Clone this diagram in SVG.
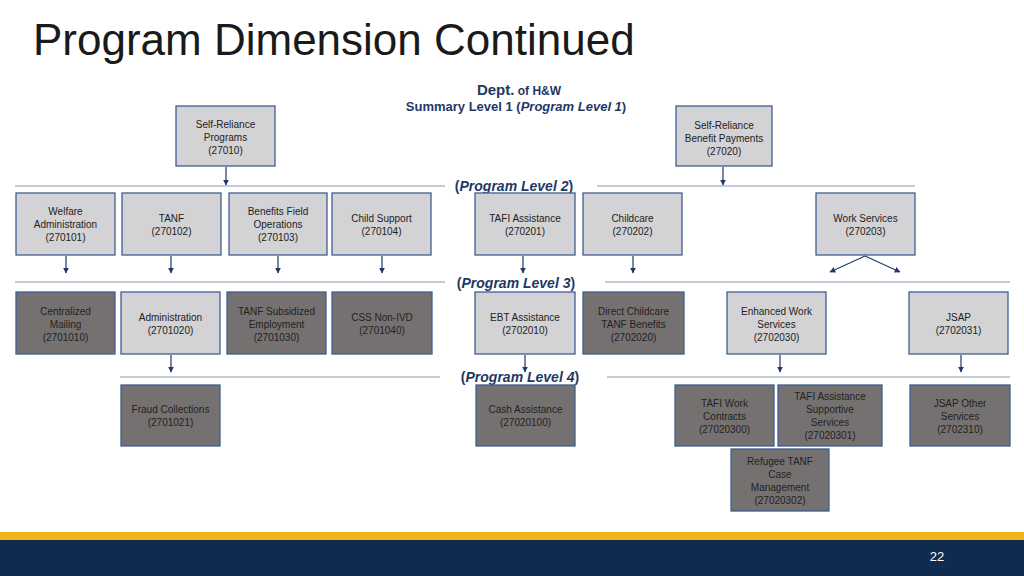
<svg xmlns="http://www.w3.org/2000/svg" width="1024" height="576" viewBox="0 0 1024 576">
<defs>
<style>
text{font-family:"Liberation Sans",Arial,sans-serif}
.b rect{stroke:#3f5f92;stroke-width:1.3}
.l rect{fill:#d3d2d5}
.d rect{fill:#767171}
.b text{font-size:10px;fill:#222;text-anchor:middle}
.hl{stroke:#8a98b0;stroke-width:1}
.lv{font-size:14px;font-weight:bold;font-style:italic;fill:#1f3864;text-anchor:middle}
.lv tspan.p{font-style:normal}
.ar{stroke:#1f3864;stroke-width:1.2;fill:none;marker-end:url(#m)}
</style>
<marker id="m" viewBox="0 0 10 10" refX="9" refY="5" markerWidth="5" markerHeight="5" orient="auto"><path d="M0,0L10,5L0,10z" fill="#1f3864"/></marker>
</defs>
<rect width="1024" height="576" fill="#fff"/>
<text x="33" y="55" font-size="44" fill="#1a1a1a">Program Dimension Continued</text>
<text x="519" y="95" text-anchor="middle" font-weight="bold" fill="#1f3864"><tspan font-size="15">Dept.</tspan><tspan font-size="12"> of H&amp;W</tspan></text>
<text x="516" y="111" text-anchor="middle" font-weight="bold" font-size="13" fill="#1f3864">Summary Level 1 (<tspan font-style="italic">Program Level 1</tspan>)</text>

<g id="connectors">
<line class="hl" x1="15" y1="186" x2="445" y2="186"/><line class="hl" x1="597" y1="186" x2="915" y2="186"/>
<line class="hl" x1="15" y1="282" x2="445" y2="282"/><line class="hl" x1="605" y1="282" x2="1010" y2="282"/>
<line class="hl" x1="120" y1="377" x2="440" y2="377"/><line class="hl" x1="607" y1="377" x2="1010" y2="377"/>
<path class="ar" d="M226,167V185"/><path class="ar" d="M723,167V185"/>
<path class="ar" d="M66,256V273"/><path class="ar" d="M171,256V273"/><path class="ar" d="M278,256V273"/><path class="ar" d="M382,256V273"/><path class="ar" d="M523,256V273"/><path class="ar" d="M633,256V273"/>
<path class="ar" d="M865,256L830,272"/><path class="ar" d="M865,256L900,272"/>
<path class="ar" d="M171,355V372"/><path class="ar" d="M525,355V372"/><path class="ar" d="M780,355V372"/><path class="ar" d="M961,355V372"/>
</g>
<text class="lv" x="514" y="191"><tspan class="p">(</tspan>Program Level 2<tspan class="p">)</tspan></text>
<text class="lv" x="516" y="288"><tspan class="p">(</tspan>Program Level 3<tspan class="p">)</tspan></text>
<text class="lv" x="520" y="382"><tspan class="p">(</tspan>Program Level 4<tspan class="p">)</tspan></text>

<g id="n27010" class="b l"><rect x="176" y="106" width="99" height="60"/><text x="225.5" y="128">Self-Reliance</text><text x="225.5" y="141">Programs</text><text x="225.5" y="154">(27010)</text></g>
<g id="n27020" class="b l"><rect x="676" y="106" width="96" height="60"/><text x="724" y="129">Self-Reliance</text><text x="724" y="142">Benefit Payments</text><text x="724" y="155">(27020)</text></g>

<g id="n270101" class="b l"><rect x="16" y="193" width="99" height="62"/><text x="65.5" y="215">Welfare</text><text x="65.5" y="228">Administration</text><text x="65.5" y="241">(270101)</text></g>
<g id="n270102" class="b l"><rect x="122" y="193" width="99" height="62"/><text x="171.5" y="222">TANF</text><text x="171.5" y="235">(270102)</text></g>
<g id="n270103" class="b l"><rect x="229" y="193" width="98" height="62"/><text x="278" y="215">Benefits Field</text><text x="278" y="228">Operations</text><text x="278" y="241">(270103)</text></g>
<g id="n270104" class="b l"><rect x="332" y="193" width="99" height="62"/><text x="381.5" y="222">Child Support</text><text x="381.5" y="235">(270104)</text></g>
<g id="n270201" class="b l"><rect x="475" y="193" width="100" height="62"/><text x="525" y="222">TAFI Assistance</text><text x="525" y="235">(270201)</text></g>
<g id="n270202" class="b l"><rect x="583" y="193" width="99" height="62"/><text x="632.5" y="222">Childcare</text><text x="632.5" y="235">(270202)</text></g>
<g id="n270203" class="b l"><rect x="816" y="193" width="99" height="62"/><text x="865.5" y="222">Work Services</text><text x="865.5" y="235">(270203)</text></g>

<g id="n2701010" class="b d"><rect x="16" y="292" width="99" height="62"/><text x="65.5" y="315">Centralized</text><text x="65.5" y="328">Mailing</text><text x="65.5" y="341">(2701010)</text></g>
<g id="n2701020" class="b l"><rect x="121" y="292" width="99" height="62"/><text x="170.5" y="321">Administration</text><text x="170.5" y="334">(2701020)</text></g>
<g id="n2701030" class="b d"><rect x="227" y="292" width="99" height="62"/><text x="276.5" y="315">TANF Subsidized</text><text x="276.5" y="328">Employment</text><text x="276.5" y="341">(2701030)</text></g>
<g id="n2701040" class="b d"><rect x="332" y="292" width="100" height="62"/><text x="382" y="321">CSS Non-IVD</text><text x="382" y="334">(2701040)</text></g>
<g id="n2702010" class="b l"><rect x="475" y="292" width="100" height="62"/><text x="525" y="321">EBT Assistance</text><text x="525" y="334">(2702010)</text></g>
<g id="n2702020" class="b d"><rect x="583" y="292" width="101" height="62"/><text x="633.5" y="315">Direct Childcare</text><text x="633.5" y="328">TANF Benefits</text><text x="633.5" y="341">(2702020)</text></g>
<g id="n2702030" class="b l"><rect x="727" y="292" width="99" height="62"/><text x="776.5" y="315">Enhanced Work</text><text x="776.5" y="328">Services</text><text x="776.5" y="341">(2702030)</text></g>
<g id="n2702031" class="b l"><rect x="909" y="292" width="99" height="62"/><text x="958.5" y="321">JSAP</text><text x="958.5" y="334">(2702031)</text></g>

<g id="n2701021" class="b d"><rect x="121" y="385" width="99" height="61"/><text x="170.5" y="413">Fraud Collections</text><text x="170.5" y="426">(2701021)</text></g>
<g id="n27020100" class="b d"><rect x="476" y="385" width="99" height="61"/><text x="525.5" y="413">Cash Assistance</text><text x="525.5" y="426">(27020100)</text></g>
<g id="n27020300" class="b d"><rect x="675" y="385" width="99" height="61"/><text x="724.5" y="407">TAFI Work</text><text x="724.5" y="420">Contracts</text><text x="724.5" y="433">(27020300)</text></g>
<g id="n27020301" class="b d"><rect x="778" y="385" width="104" height="61"/><text x="830" y="400">TAFI Assistance</text><text x="830" y="413">Supportive</text><text x="830" y="426">Services</text><text x="830" y="439">(27020301)</text></g>
<g id="n2702310" class="b d"><rect x="910" y="385" width="100" height="61"/><text x="960" y="407">JSAP Other</text><text x="960" y="420">Services</text><text x="960" y="433">(2702310)</text></g>
<g id="n27020302" class="b d"><rect x="731" y="449" width="98" height="62"/><text x="780" y="465">Refugee TANF</text><text x="780" y="478">Case</text><text x="780" y="491">Management</text><text x="780" y="504">(27020302)</text></g>

<rect x="0" y="532" width="1024" height="8" fill="#f2b21b"/>
<rect x="0" y="540" width="1024" height="36" fill="#0f2b50"/>
<text x="937" y="561" font-size="13" fill="#fff" text-anchor="middle">22</text>
</svg>
